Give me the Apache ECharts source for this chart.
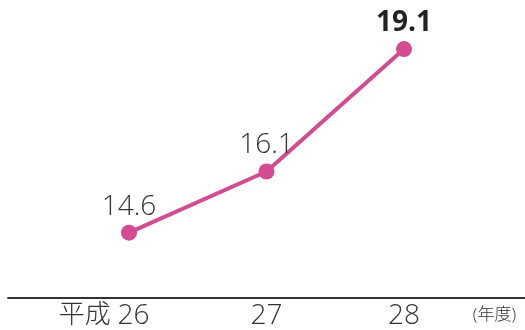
<!DOCTYPE html>
<html>
<head>
<meta charset="utf-8">
<script src="https://cdn.jsdelivr.net/npm/echarts@6/dist/echarts.min.js"></script>
<style>
html, body { margin: 0; padding: 0; background: #fff; }
#chart { width: 525px; height: 330px; }
</style>
</head>
<body>
<div id="chart"></div>
<script>
var years = ['26', '27', '28'];
var values = [14.6, 16.1, 19.1];
var eraPrefix = '平成';
var unitLabel = '(年度)';

var font = "'Open Sans', 'Noto Sans CJK JP', sans-serif";
var pink = '#d24c8f';

var chart = echarts.init(document.getElementById('chart'));
chart.setOption({
	animation: false,
	title: {
		text: unitLabel,
		right: 4,
		bottom: 1,
		textStyle: { fontFamily: font, fontSize: 17, fontWeight: 300, color: '#333' }
	},
	grid: [
		{ left: 8, right: 0, top: 9.3, bottom: 32 },
		{ left: 60.25, right: 52.25, top: 12.3, bottom: 29 }
	],
	xAxis: [{
		gridIndex: 0,
		type: 'category',
		data: years,
		axisLine: { lineStyle: { color: '#333', width: 2 } },
		axisTick: { show: false },
		axisLabel: { show: false }
	}, {
		gridIndex: 1,
		type: 'category',
		data: years,
		axisLine: { show: false },
		axisTick: { show: false },
		axisLabel: {
			interval: 0,
			margin: 4,
			fontFamily: font,
			fontSize: 28,
			fontWeight: 300,
			color: '#333',
			formatter: function(v, i) {
				return i === 0 ? '{pre|' + eraPrefix + ' }' + v + '{sp|}' : v;
			},
			rich: {
				pre: { fontFamily: font, fontSize: 26, fontWeight: 300, color: '#333' },
				sp: { width: 50 }
			}
		}
	}],
	yAxis: [
		{ gridIndex: 0, type: 'value', show: false, min: 13, max: 20 },
		{ gridIndex: 1, type: 'value', show: false, min: 13, max: 20 }
	],
	series: [{
		type: 'line',
		xAxisIndex: 1,
		yAxisIndex: 1,
		data: values,
		symbol: 'circle',
		symbolSize: 16,
		lineStyle: { color: pink, width: 4 },
		itemStyle: { color: pink },
		label: {
			show: true,
			position: 'top',
			distance: 4,
			fontFamily: font,
			fontSize: 28,
			fontWeight: 300,
			color: '#333',
			formatter: function(p) {
				return p.dataIndex === values.length - 1 ? '{b|' + p.value + '}' : String(p.value);
			},
			rich: {
				b: { fontFamily: font, fontSize: 28, fontWeight: 'bold', color: '#222' }
			}
		}
	}]
});
</script>
</body>
</html>
